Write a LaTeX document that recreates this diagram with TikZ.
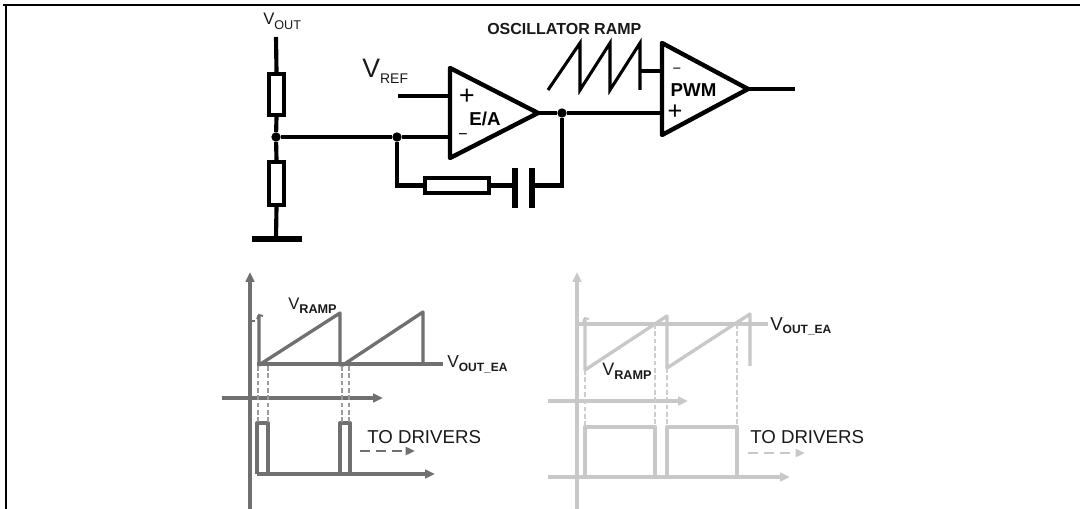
\documentclass[tikz,border=0pt]{standalone}
\usepackage{fontspec}
\setmainfont{Liberation Sans}
\usetikzlibrary{arrows.meta}
\definecolor{plotdark}{RGB}{112,112,112}
\definecolor{plotlight}{RGB}{200,200,200}
\definecolor{dashdark}{RGB}{155,155,155}
\definecolor{dashlight}{RGB}{205,205,205}
\definecolor{inktext}{RGB}{25,25,25}
\newcommand{\fsz}[1]{\fontsize{#1}{#1}\selectfont}
\tikzset{
  wire/.style={line width=3.1pt},
  res/.style={draw, rectangle, line width=3pt, inner sep=0pt},
  plate/.style={line width=4pt},
  dot/.style={circle, fill, inner sep=0pt, minimum size=7pt},
  lbl/.style={inner sep=0pt, anchor=base west, text=inktext},
  sign/.style={inner sep=0pt},
  axisdark/.style={plotdark, line width=2.3pt, -{Triangle[length=7.5pt,width=6.5pt]}},
  axislight/.style={plotlight, line width=2.3pt, -{Triangle[length=7.5pt,width=6.5pt]}},
  tracedark/.style={plotdark, line width=2.5pt, line join=round},
  tracelight/.style={plotlight, line width=2.5pt, line join=round},
  guidedark/.style={dashdark, line width=0.9pt, dash pattern=on 3.5pt off 2pt},
  guidelight/.style={dashlight, line width=0.9pt, dash pattern=on 3.5pt off 2pt},
}
\begin{document}
\begin{tikzpicture}[x=0.75pt, y=-0.75pt]
	%%%%% START %%%%%
	\useasboundingbox (0,0) rectangle (1080,509);
	\fill[white] (0,0) rectangle (1080,509);
	
	% frame
	\draw[line width=1.6pt] (3,5) -- (1080,5);
	\draw[line width=1.6pt] (6,4) -- (6,509);
	
	% divider and ground
	\coordinate (vout) at (276,37);
	\coordinate (gnd) at (276,239);
	\node[res, minimum width=11.5pt, minimum height=31pt] (r1) at (276.5,94.5) {};
	\node[res, minimum width=11.5pt, minimum height=32.5pt] (r2) at (276.5,183.5) {};
	\node[dot] (j1) at (276,137) {};
	\draw[wire] (vout) -- (r1.north);
	\draw[wire] (r1.south) -- (j1) -- (r2.north);
	\draw[wire] (r2.south) -- (gnd);
	\draw[line width=4.8pt] (252,239) -- (302,239);
	\node[lbl] (vout-lbl) at (263,25) {\fsz{12.5}V\raisebox{-3.6pt}{\fsz{9.5}OUT}};
	
	% error amplifier
	\coordinate (eaP) at (450,96);
	\coordinate (eaM) at (450,137);
	\coordinate (eaO) at (538,113);
	\coordinate (vref) at (398,96);
	\draw[wire, line width=3.3pt, line join=round] (450,68) -- (eaO) -- (450,158) -- cycle;
	\node[dot] (j2) at (397,137) {};
	\draw[wire] (j1) -- (j2) -- (eaM);
	\draw[wire] (vref) -- (eaP);
	\node[sign] (ea-plus) at (467,97) {\fsz{20}+};
	\node[sign] (ea-minus) at (463,137) {\fsz{12}−};
	\node[sign] (ea-lbl) at (485,119) {\fsz{14}\bfseries E/A};
	\node[lbl] (vref-lbl) at (362,78) {\fsz{20}V\raisebox{-4.5pt}{\fsz{10.5}REF}};
	
	% compensation network
	\node[res, minimum width=48pt, minimum height=11pt] (r3) at (456.5,185.5) {};
	\coordinate (capL) at (515,185.5);
	\coordinate (capR) at (532,185.5);
	\node[dot] (j3) at (562,113) {};
	\draw[wire] (j2) |- (r3.west);
	\draw[wire] (r3.east) -- (capL);
	\draw[plate] (515,168) -- (515,208);
	\draw[plate] (532,168) -- (532,208);
	\draw[wire] (eaO) -- (j3);
	\draw[wire] (j3) |- (capR);
	
	% pwm comparator
	\coordinate (pwmP) at (662,113);
	\coordinate (pwmM) at (662,71);
	\coordinate (pwmO) at (748,89);
	\coordinate (drv) at (795,89);
	\draw[wire, line width=3.3pt, line join=round] (662,43) -- (pwmO) -- (662,135) -- cycle;
	\draw[wire] (j3) -- (pwmP);
	\draw[wire] (pwmO) -- (drv);
	\draw[line width=2.3pt] (548,90) -- (580,43) -- (580,90) -- (610,43) -- (610,90) -- (640,43) -- (640,90);
	\draw[line width=2.3pt] (640,71) -- (pwmM);
	\node[sign] (pwm-minus) at (677,71) {\fsz{11}−};
	\node[sign] (pwm-plus) at (675,112) {\fsz{19}+};
	\node[sign] (pwm-lbl) at (693.5,90) {\fsz{14}\bfseries PWM};
	\node[lbl] (osc-lbl) at (487,35) {\fsz{12}\bfseries OSCILLATOR RAMP};
	
	%%%%% LEFT PLOT %%%%%
	\draw[axisdark] (250,509) -- (250,272);
	\draw[axisdark] (222,398) -- (383,398);
	\draw[axisdark] (257,474) -- (435,474);
	\draw[tracedark] (257,364) -- (443,364);
	\draw[tracedark] (259,315) -- (259,365) -- (340,313) -- (340,365) -- (343,365) -- (423,312) -- (423,364);
	\draw[plotdark, line width=1.4pt] (257,319) -- (259,315) -- (263,316);
	\draw[plotdark, line width=1.4pt] (250,321) -- (255,321);
	\draw[tracedark] (257,474) -- (257,423) -- (268,423) -- (268,474);
	\draw[tracedark] (340,474) -- (340,423) -- (350,423) -- (350,474);
	\draw[guidedark] (258,366) -- (258,423);
	\draw[guidedark] (268,366) -- (268,423);
	\draw[guidedark] (342,366) -- (342,423);
	\draw[guidedark] (349,366) -- (349,423);
	\node[lbl] (ramp1-lbl) at (288,310) {\fsz{12.5}V\raisebox{-2.3pt}{\fsz{9.5}\bfseries RAMP}};
	\node[lbl] (ea1-lbl) at (447,367) {\fsz{13}V\raisebox{-3.7pt}{\fsz{9}\bfseries OUT\_EA}};
	\node[lbl] (drv1-lbl) at (367,443) {\fsz{14}TO DRIVERS};
	\draw[plotdark, line width=2.2pt, dash pattern=on 7.5pt off 4.5pt, -{Triangle[length=7pt,width=6pt]}] (360,451) -- (415,451);
	
	%%%%% RIGHT PLOT %%%%%
	\draw[axislight] (577,509) -- (577,272);
	\draw[axislight] (548,401) -- (688,401);
	\draw[axislight] (548,477) -- (790,477);
	\draw[tracelight] (577,324) -- (768,324);
	\draw[tracelight] (585,318) -- (585,370) -- (667,316) -- (667,368) -- (750,314) -- (750,366);
	\draw[plotlight, line width=1.4pt] (583,322) -- (585,318) -- (589,319);
	\draw[tracelight] (585,477) -- (585,427) -- (655,427) -- (655,477);
	\draw[tracelight] (667,477) -- (667,427) -- (737,427) -- (737,477);
	\draw[guidelight] (585,370) -- (585,427);
	\draw[guidelight] (655,324) -- (655,427);
	\draw[guidelight] (667,368) -- (667,427);
	\draw[guidelight] (737,324) -- (737,427);
	\node[lbl] (ramp2-lbl) at (602,375) {\fsz{13.5}V\raisebox{-3.5pt}{\fsz{9.5}\bfseries RAMP}};
	\node[lbl] (ea2-lbl) at (770,330) {\fsz{14}V\raisebox{-2.5pt}{\fsz{9}\bfseries OUT\_EA}};
	\node[lbl] (drv2-lbl) at (750,443) {\fsz{14}TO DRIVERS};
	\draw[plotlight, line width=2.2pt, dash pattern=on 7.5pt off 4.5pt, -{Triangle[length=7pt,width=6pt]}] (748,453) -- (805,453);
	%%%%% END %%%%%
\end{tikzpicture}
\end{document}
